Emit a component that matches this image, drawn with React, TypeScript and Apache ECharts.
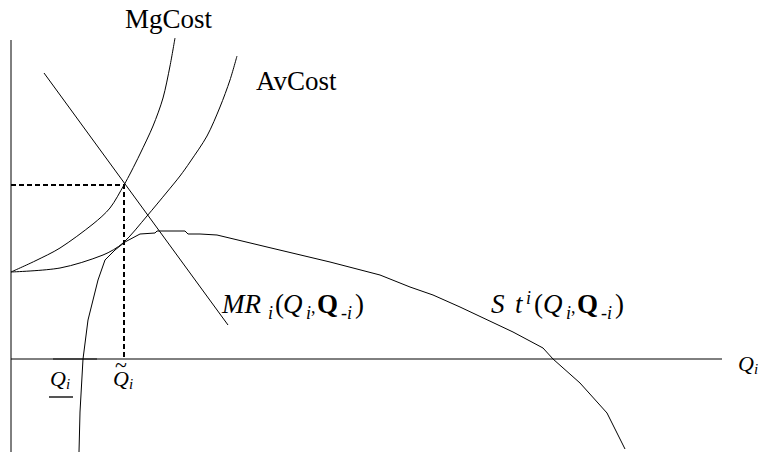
import React, { useEffect, useRef } from "react";
import * as echarts from "echarts";

// Quantity (x) and money (y) in arbitrary diagram units
const mgCost: [number, number][] = [
  [0, 8.7], [2.4, 9.8], [4.9, 11.1], [8.2, 13.5], [9.9, 15.1], [11.3, 17.4],
  [12.0, 18.7], [12.9, 20.5], [14.2, 23.3], [15.2, 26.1], [15.9, 29.3], [16.4, 32.1],
];
const avCost: [number, number][] = [
  [0, 8.7], [4.9, 9.1], [9.2, 10.4], [11.2, 11.6], [13.6, 14.3], [15.6, 16.7],
  [16.9, 18.3], [17.9, 19.7], [19.6, 22.3], [20.9, 25.2], [21.9, 27.9], [22.6, 30.3],
];
const marginalRevenue: [number, number][] = [
  [3.3, 28.6], [21.7, 3.4],
];
const stCurve: [number, number][] = [
  [6.8, -9.3], [6.9, -5.3], [7.2, 0], [7.7, 3.9], [8.7, 7.9], [9.4, 9.9],
  [10.4, 10.9], [11.4, 11.7], [12.9, 12.5], [14.4, 12.6], [14.6, 12.8], [17.4, 12.8],
  [17.7, 12.5], [18.9, 12.5], [20.6, 12.4], [25.6, 11.2], [31.9, 9.7], [36.9, 8.4],
  [39.9, 7.2], [42.2, 6.4], [44.9, 5.2], [50.2, 2.7], [53.2, 1.1], [54.2, 0],
  [56.9, -2.4], [59.6, -5.4], [61.4, -9.0],
];
const qTilde = 11.3;
const pAtQTilde = 17.4;
const qUnderStart = 4.2;
const qUnderEnd = 8.6;
const verticalAxisTop = 31.9;
const verticalAxisBottom = -9.3;
const horizontalAxisEnd = 71.1;

const xRange = [0, 75];
const yRange = [-9.3, 35.7];

const SERIF = "Liberation Serif";

type Piece = {
  text: string;
  x: number;
  base: number;
  size: number;
  italic?: boolean;
  bold?: boolean;
};

function textEl(p: Piece) {
  return {
    type: "text",
    x: p.x,
    y: p.base - p.size * 0.3375,
    silent: true,
    style: {
      text: p.text,
      fontSize: p.size,
      fontFamily: SERIF,
      fontStyle: p.italic ? "italic" : "normal",
      fontWeight: p.bold ? "bold" : "normal",
      fill: "#000",
      textAlign: "left",
      textVerticalAlign: "middle",
      align: "left",
      verticalAlign: "middle",
    },
  };
}

const BIG = 27;
const SUB = 18;
const AX = 22;
const AXSUB = 15;

function pieces(): Piece[] {
  return [
    { text: "MgCost", x: 125, base: 28, size: BIG },
    { text: "AvCost", x: 256, base: 90, size: BIG },
    // MR_i(Q_i, Q_-i)
    { text: "MR", x: 222, base: 313, size: BIG, italic: true },
    { text: "i", x: 268, base: 319, size: SUB, italic: true },
    { text: "(", x: 275, base: 313, size: BIG },
    { text: "Q", x: 283, base: 313, size: BIG, italic: true },
    { text: "i", x: 306, base: 319, size: SUB, italic: true },
    { text: ",", x: 311, base: 313, size: SUB },
    { text: "Q", x: 317, base: 313, size: BIG, bold: true },
    { text: "-i", x: 341, base: 319, size: SUB, italic: true },
    { text: ")", x: 355, base: 313, size: BIG },
    // S t^i(Q_i, Q_-i)
    { text: "S", x: 491, base: 313, size: BIG, italic: true },
    { text: "t", x: 515, base: 313, size: BIG, italic: true },
    { text: "i", x: 526, base: 304, size: SUB, italic: true },
    { text: "(", x: 534, base: 313, size: BIG },
    { text: "Q", x: 543, base: 313, size: BIG, italic: true },
    { text: "i", x: 566, base: 319, size: SUB, italic: true },
    { text: ",", x: 571, base: 313, size: SUB },
    { text: "Q", x: 577, base: 313, size: BIG, bold: true },
    { text: "-i", x: 601, base: 319, size: SUB, italic: true },
    { text: ")", x: 615, base: 313, size: BIG },
    // axis labels
    { text: "Q", x: 738, base: 371, size: AX, italic: true },
    { text: "i", x: 754, base: 374, size: AXSUB, italic: true },
    { text: "Q", x: 50, base: 386, size: AX, italic: true },
    { text: "i", x: 66, base: 389, size: AXSUB, italic: true },
    { text: "Q", x: 113, base: 386, size: AX, italic: true },
    { text: "i", x: 129, base: 389, size: AXSUB, italic: true },
    { text: "~", x: 115, base: 372, size: AX },
  ];
}

function lineSeries(data: [number, number][], opts: any = {}) {
  return {
    type: "line",
    data,
    symbol: "none",
    silent: true,
    smooth: opts.smooth ?? false,
    z: opts.z ?? 2,
    lineStyle: {
      color: opts.color ?? "#000",
      width: opts.width ?? 1,
      type: opts.dash ?? "solid",
    },
  };
}

export default function App() {
  const ref = useRef<HTMLDivElement>(null);
  useEffect(() => {
    if (!ref.current) return;
    const chart = echarts.init(ref.current, undefined, { renderer: "svg" });
    const option: any = {
      animation: false,
      backgroundColor: "#fff",
      grid: { left: 11, top: 2, width: 750, height: 450, outerBoundsMode: "none", containLabel: false },
      xAxis: { type: "value", min: xRange[0], max: xRange[1], show: false },
      yAxis: { type: "value", min: yRange[0], max: yRange[1], show: false },
      series: [
        lineSeries([[0, verticalAxisTop], [0, verticalAxisBottom]]),
        lineSeries([[qUnderStart, 0], [qUnderEnd, 0]], { color: "#888", width: 2, z: 1 }),
        lineSeries([[0, 0], [horizontalAxisEnd, 0]]),
        lineSeries(mgCost, { smooth: 0.3 }),
        lineSeries(avCost, { smooth: 0.3 }),
        lineSeries(marginalRevenue),
        lineSeries(stCurve),
        lineSeries([[0, pAtQTilde], [qTilde, pAtQTilde], [qTilde, 0]], {
          width: 2,
          dash: [5, 3],
          z: 3,
        }),
      ],
      graphic: [
        ...pieces().map(textEl),
        {
          type: "line",
          silent: true,
          shape: { x1: 49, y1: 397, x2: 73, y2: 397 },
          style: { stroke: "#555", lineWidth: 2 },
        },
      ],
    };
    chart.setOption(option);
    return () => chart.dispose();
  }, []);
  return (
    <div
      ref={ref}
      style={{ position: "fixed", left: 0, top: 0, width: 762, height: 452, background: "#fff" }}
    />
  );
}
